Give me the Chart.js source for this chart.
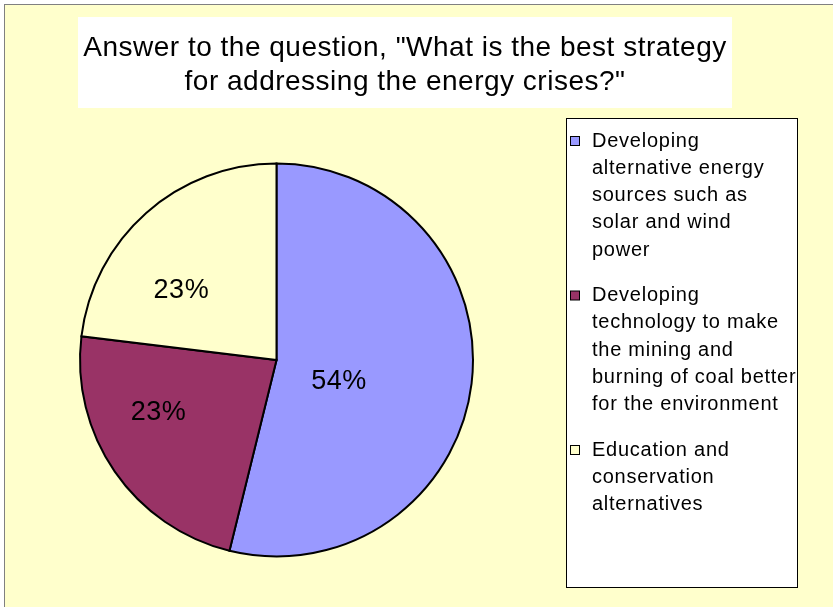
<!DOCTYPE html>
<html>
<head>
<meta charset="utf-8">
<script src="https://cdn.jsdelivr.net/npm/chart.js@4.4.0/dist/chart.umd.min.js"></script>
<style>
  html, body { margin: 0; padding: 0; background: #ffffff; }
  #wrap { width: 833px; height: 607px; position: relative; }
</style>
</head>
<body>
<div id="wrap"><canvas id="chart" width="833" height="607"></canvas></div>
<script>
// chart data
const titleLines = ['Answer to the question, "What is the best strategy', 'for addressing the energy crises?"'];
const categories = [
  ['Developing', 'alternative energy', 'sources such as', 'solar and wind', 'power'],
  ['Developing', 'technology to make', 'the mining and', 'burning of coal better', 'for the environment'],
  ['Education and', 'conservation', 'alternatives'],
];
const responses = [7, 3, 3];
const sliceColors = ['#9999FF', '#993366', '#FFFFCC'];

const FONT = 'Arial, "Liberation Sans", sans-serif';
const BG = '#FFFFCC';

// frame, title box and legend drawn around the pie
const frame = {
  id: 'frame',
  beforeDraw(c) {
    const ctx = c.ctx;
    ctx.save();
    ctx.fillStyle = BG;
    ctx.fillRect(4, 4, c.width, c.height);
    ctx.strokeStyle = '#808080';
    ctx.lineWidth = 1;
    ctx.strokeRect(4.5, 4.5, c.width + 10, c.height + 10);

    // title
    ctx.fillStyle = '#ffffff';
    ctx.fillRect(78, 17, 654, 91);
    ctx.fillStyle = '#000000';
    ctx.font = '28px ' + FONT;
    ctx.letterSpacing = '0.5px';
    ctx.textAlign = 'center';
    ctx.textBaseline = 'middle';
    titleLines.forEach((t, i) => ctx.fillText(t, 405, 48 + i * 34));

    // legend box
    ctx.fillStyle = '#ffffff';
    ctx.fillRect(566, 118, 232, 470);
    ctx.strokeStyle = '#000000';
    ctx.strokeRect(566.5, 118.5, 231, 469);
    ctx.restore();
  },
  afterDraw(c) {
    const ctx = c.ctx;
    ctx.save();
    // legend entries
    ctx.save();
    ctx.beginPath();
    ctx.rect(567, 119, 230, 468);
    ctx.clip();
    ctx.font = '20px ' + FONT;
    ctx.letterSpacing = '0.75px';
    ctx.textAlign = 'left';
    ctx.textBaseline = 'middle';
    let y = 141;
    categories.forEach((lines, i) => {
      ctx.fillStyle = sliceColors[i];
      ctx.fillRect(570.5, y - 4.5, 9, 9);
      ctx.strokeStyle = '#000000';
      ctx.lineWidth = 1;
      ctx.strokeRect(570.5, y - 4.5, 9, 9);
      ctx.fillStyle = '#000000';
      lines.forEach((t, j) => ctx.fillText(t, 592, y + j * 27.3));
      y += lines.length * 27.3 + 18;
    });
    ctx.restore();

    // percentage labels inside slices
    const meta = c.getDatasetMeta(0);
    const total = responses.reduce((a, b) => a + b, 0);
    ctx.font = '27px ' + FONT;
    ctx.letterSpacing = '0.5px';
    ctx.textAlign = 'center';
    ctx.textBaseline = 'middle';
    ctx.fillStyle = '#000000';
    meta.data.forEach((arc, i) => {
      const share = responses[i] / total;
      const mid = (arc.startAngle + arc.endAngle) / 2;
      const big = share > 0.5;
      const rx = arc.outerRadius * (big ? 0.32 : 0.73);
      const ry = arc.outerRadius * (big ? 0.9 : 0.47);
      const px = arc.x + Math.cos(mid) * rx;
      const py = arc.y + Math.sin(mid) * ry;
      ctx.fillText(Math.round(share * 100) + '%', px, py);
    });
    ctx.restore();
  },
};

new Chart(document.getElementById('chart'), {
  type: 'pie',
  data: {
    labels: categories.map(l => l.join(' ')),
    datasets: [{
      data: responses,
      backgroundColor: sliceColors,
      borderColor: '#000000',
      borderWidth: 2,
      borderJoinStyle: 'miter',
    }],
  },
  options: {
    responsive: false,
    animation: false,
    layout: {
      padding: { left: 79, right: 359, top: 162.5, bottom: 49.5 },
    },
    plugins: {
      legend: { display: false },
      tooltip: { enabled: false },
      title: { display: false },
    },
  },
  plugins: [frame],
});
</script>
</body>
</html>
